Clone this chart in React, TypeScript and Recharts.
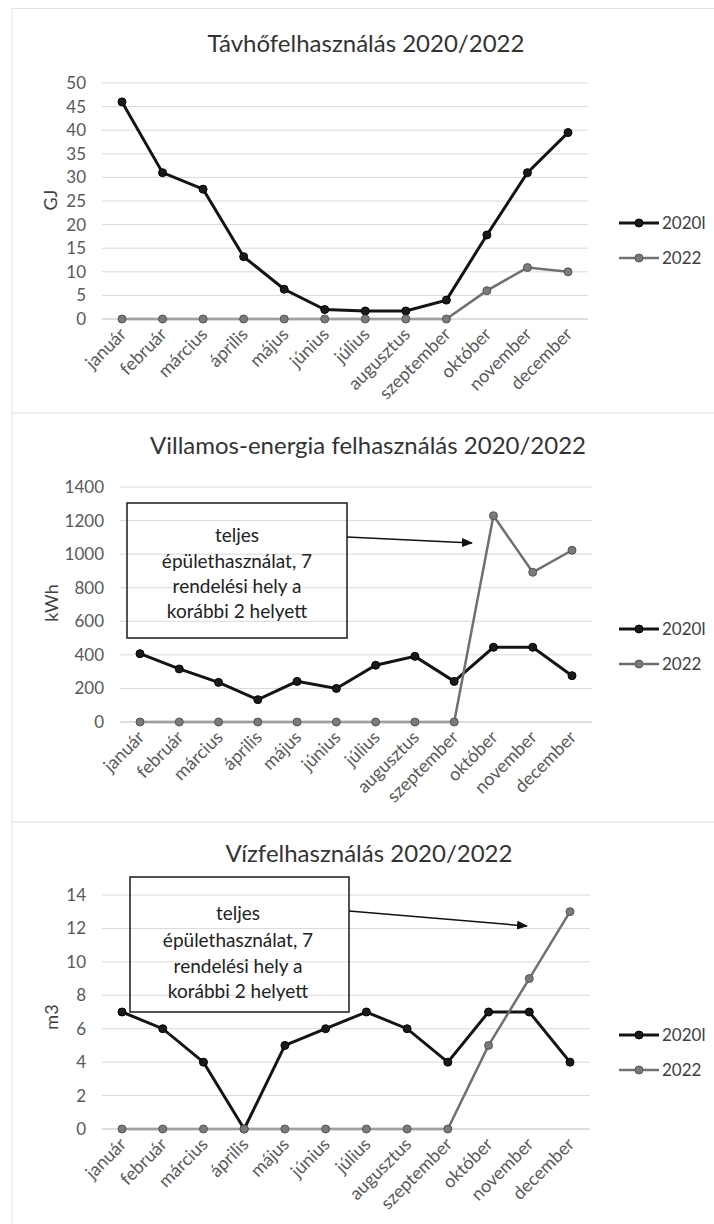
import React from 'react';
import { LineChart, Line, XAxis, YAxis, CartesianGrid, Legend } from 'recharts';

const months = ['január', 'február', 'március', 'április', 'május', 'június', 'július', 'augusztus', 'szeptember', 'október', 'november', 'december'];
const seriesNames = ['2020l', '2022'];

const heat2020 = [46, 31, 27.5, 13.2, 6.3, 2.0, 1.7, 1.7, 4.0, 17.8, 31, 39.5];
const heat2022 = [0, 0, 0, 0, 0, 0, 0, 0, 0, 6, 10.9, 10];
const heatTicks = [0, 5, 10, 15, 20, 25, 30, 35, 40, 45, 50];

const elec2020 = [407, 316, 236, 133, 242, 200, 338, 391, 242, 445, 445, 276];
const elec2022 = [0, 0, 0, 0, 0, 0, 0, 0, 0, 1229, 892, 1023];
const elecTicks = [0, 200, 400, 600, 800, 1000, 1200, 1400];

const water2020 = [7, 6, 4, 0, 5, 6, 7, 6, 4, 7, 7, 4];
const water2022 = [0, 0, 0, 0, 0, 0, 0, 0, 0, 5, 9, 13];
const waterTicks = [0, 2, 4, 6, 8, 10, 12, 14];

const titles = ['Távhőfelhasználás 2020/2022', 'Villamos-energia felhasználás 2020/2022', 'Vízfelhasználás 2020/2022'];
const units = ['GJ', 'kWh', 'm3'];
const noteLines = ['teljes', 'épülethasználat, 7', 'rendelési hely a', 'korábbi 2 helyett'];

const buildRows = (a: number[], b: number[]) =>
  months.map((m, i) => ({ month: m, [seriesNames[0]]: a[i], [seriesNames[1]]: b[i] }));

const FONT = 'Lato, "Open Sans", sans-serif';
const C2020 = '#141414';
const C2022 = '#707070';

const XTick = (props: any) => {
  const { x, y, payload } = props;
  return (
    <g transform={`translate(${x + 1},${y + 12})`}>
      <text x={0} y={0} dy="0.35em" textAnchor="end" transform="rotate(-45)" fill="#595959" fontSize={18} fontFamily={FONT}>
        {payload.value}
      </text>
    </g>
  );
};

const LegendContent = (props: any) => {
  const { payload } = props;
  return (
    <div style={{ fontFamily: FONT }}>
      {(payload || []).map((p: any) => {
        const is2020 = p.value === seriesNames[0];
        return (
          <div key={p.value} style={{ display: 'flex', alignItems: 'center', height: 35 }}>
            <svg width={43} height={12} style={{ display: 'block' }}>
              <line x1={0} y1={6} x2={40} y2={6} stroke={is2020 ? C2020 : C2022} strokeWidth={is2020 ? 3 : 2.5} />
              <circle cx={20} cy={6} r={4} fill={is2020 ? '#1a1a1a' : '#7a7a7a'} stroke={is2020 ? '#000' : '#555'} strokeWidth={1} />
            </svg>
            <span style={{ fontSize: 17, color: '#404040', lineHeight: '20px' }}>{p.value}</span>
          </div>
        );
      })}
    </div>
  );
};

type PanelProps = {
  top: number;
  height: number;
  margin: { top: number; right: number; bottom: number; left: number };
  rows: any[];
  ticks: number[];
  legendTop: number;
};

const Panel = ({ top, height, margin, rows, ticks, legendTop }: PanelProps) => (
  <div style={{ position: 'absolute', left: 0, top, width: 714, height }}>
    <LineChart width={714} height={height} data={rows} margin={margin} style={{ fontFamily: FONT }}>
      <CartesianGrid horizontal vertical={false} stroke="#d9d9d9" strokeWidth={1} />
      <XAxis
        dataKey="month"
        interval={0}
        height={80}
        padding={{ left: 20, right: 20 }}
        axisLine={{ stroke: '#d0d0d0' }}
        tickLine={false}
        tickSize={0}
        tickMargin={0}
        tick={<XTick />}
      />
      <YAxis
        width={60}
        domain={[ticks[0], ticks[ticks.length - 1]]}
        ticks={ticks}
        interval={0}
        axisLine={false}
        tickLine={false}
        tickSize={0}
        tickMargin={16}
        tick={{ fill: '#595959', fontSize: 17, fontFamily: FONT }}
      />
      <Legend
        layout="vertical"
        align="center"
        verticalAlign="middle"
        content={<LegendContent />}
        wrapperStyle={{ left: 619, top: legendTop, width: 95 }}
      />
      <Line
        type="linear"
        dataKey={seriesNames[0]}
        name={seriesNames[0]}
        stroke={C2020}
        strokeWidth={3}
        dot={{ r: 4, fill: '#1a1a1a', stroke: '#000', strokeWidth: 1 }}
        isAnimationActive={false}
      />
      <Line
        type="linear"
        dataKey={seriesNames[1]}
        name={seriesNames[1]}
        stroke={C2022}
        strokeWidth={2.5}
        dot={{ r: 4, fill: '#7a7a7a', stroke: '#555', strokeWidth: 1 }}
        isAnimationActive={false}
      />
    </LineChart>
  </div>
);

const Note = ({ x, y, w, h, tx, baselines, ax1, ay1, ax2, ay2 }: any) => (
  <g>
    <rect x={x} y={y} width={w} height={h} fill="none" stroke="#1a1a1a" strokeWidth={1.5} />
    {noteLines.map((t, i) => (
      <text key={t} x={tx} y={baselines[i]} textAnchor="middle" fontSize={19} fill="#222" fontFamily={FONT}>
        {t}
      </text>
    ))}
    <line x1={ax1} y1={ay1} x2={ax2} y2={ay2} stroke="#111" strokeWidth={1.5} markerEnd="url(#arrowHead)" />
  </g>
);

const AxisTitle = ({ cx, cy, text }: any) => (
  <text x={cx} y={cy} transform={`rotate(-90, ${cx}, ${cy})`} textAnchor="middle" dominantBaseline="central" fontSize={18} fill="#404040" fontFamily={FONT}>
    {text}
  </text>
);

export default function App() {
  return (
    <div style={{ position: 'absolute', left: 0, top: 0, width: 714, height: 1224, background: '#fff', fontFamily: FONT, overflow: 'hidden' }}>
      <Panel
        top={0}
        height={412}
        margin={{ top: 83, right: 126, bottom: 13, left: 42 }}
        rows={buildRows(heat2020, heat2022)}
        ticks={heatTicks}
        legendTop={205}
      />
      <Panel
        top={412}
        height={410}
        margin={{ top: 75, right: 122, bottom: 20, left: 60 }}
        rows={buildRows(elec2020, elec2022)}
        ticks={elecTicks}
        legendTop={199}
      />
      <Panel
        top={822}
        height={402}
        margin={{ top: 73, right: 124, bottom: 15, left: 42 }}
        rows={buildRows(water2020, water2022)}
        ticks={waterTicks}
        legendTop={195}
      />
      <svg width={714} height={1224} style={{ position: 'absolute', left: 0, top: 0, pointerEvents: 'none' }}>
        <defs>
          <marker id="arrowHead" markerUnits="userSpaceOnUse" markerWidth={11} markerHeight={9} refX={10} refY={4.5} orient="auto">
            <path d="M0,0 L11,4.5 L0,9 z" fill="#111" />
          </marker>
        </defs>
        <line x1={12} y1={8.5} x2={714} y2={8.5} stroke="#e0e0e0" />
        <line x1={12} y1={413} x2={714} y2={413} stroke="#e0e0e0" />
        <line x1={12} y1={822} x2={714} y2={822} stroke="#e0e0e0" />
        <line x1={12} y1={8} x2={12} y2={1224} stroke="#e6e6e6" />
        <text x={366} y={52} textAnchor="middle" fontSize={24} fill="#333" fontFamily={FONT}>{titles[0]}</text>
        <text x={368} y={454} textAnchor="middle" fontSize={24} fill="#333" fontFamily={FONT}>{titles[1]}</text>
        <text x={369} y={862} textAnchor="middle" fontSize={24} fill="#333" fontFamily={FONT}>{titles[2]}</text>
        <AxisTitle cx={50} cy={200} text={units[0]} />
        <AxisTitle cx={51} cy={603} text={units[1]} />
        <AxisTitle cx={51} cy={1017} text={units[2]} />
        <Note x={127} y={503} w={220} h={135} tx={237} baselines={[542, 568, 593, 618]} ax1={347} ay1={537} ax2={472} ay2={543} />
        <Note x={130} y={877} w={219} h={135} tx={238} baselines={[920, 947, 973, 998]} ax1={349} ay1={911} ax2={527} ay2={926} />
      </svg>
    </div>
  );
}
